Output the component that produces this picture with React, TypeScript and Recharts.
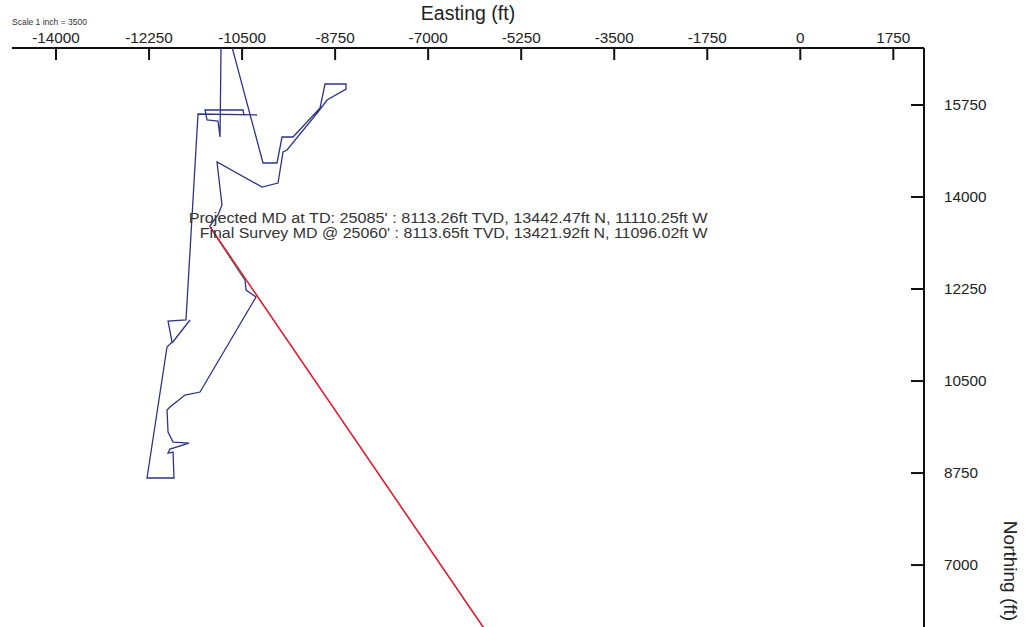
import React from 'react';
import { ScatterChart, Scatter, XAxis, YAxis, ReferenceDot } from 'recharts';

const FONT = "'Liberation Sans', Arial, Helvetica, sans-serif";

// Tick values
const eastTicks = [-14000, -12250, -10500, -8750, -7000, -5250, -3500, -1750, 0, 1750];
const northTicks = [7000, 8750, 10500, 12250, 14000, 15750];

// Offset well traces (Easting ft, Northing ft)
const wellShort = [
  { e: -10896, n: 16850 },
  { e: -10915, n: 15141 },
  { e: -10953, n: 15446 },
  { e: -11160, n: 15465 },
  { e: -11197, n: 15655 },
  { e: -10483, n: 15655 },
  { e: -10464, n: 15560 },
];

const wellWest = [
  { e: -10219, n: 15560 },
  { e: -11329, n: 15579 },
  { e: -11555, n: 11661 },
  { e: -11893, n: 11642 },
  { e: -11818, n: 11242 },
  { e: -11912, n: 11147 },
  { e: -12288, n: 8656 },
  { e: -11780, n: 8656 },
  { e: -11799, n: 9150 },
  { e: -11893, n: 9131 },
  { e: -11856, n: 9207 },
  { e: -11498, n: 9321 },
  { e: -11799, n: 9340 },
  { e: -11893, n: 9530 },
  { e: -11912, n: 9949 },
  { e: -11856, n: 10006 },
  { e: -11574, n: 10234 },
  { e: -11291, n: 10291 },
  { e: -10238, n: 12098 },
  { e: -10426, n: 12231 },
  { e: -10445, n: 12421 },
  { e: -11096, n: 13422 },
];

const wellCross = [
  { e: -11479, n: 11661 },
  { e: -11818, n: 11223 },
];

const wellLoop = [
  { e: -10689, n: 16850 },
  { e: -10106, n: 14647 },
  { e: -9843, n: 14647 },
  { e: -9749, n: 15141 },
  { e: -9542, n: 15141 },
  { e: -9034, n: 15693 },
  { e: -8940, n: 16149 },
  { e: -8545, n: 16149 },
  { e: -8545, n: 16054 },
  { e: -8902, n: 15845 },
  { e: -9072, n: 15617 },
  { e: -9655, n: 14894 },
  { e: -9730, n: 14856 },
  { e: -9824, n: 14266 },
  { e: -10125, n: 14190 },
  { e: -10972, n: 14666 },
  { e: -10878, n: 13848 },
  { e: -10953, n: 13658 },
  { e: -11110, n: 13442 },
];

// Subject well: survey (green), actual (dark) and plan (red)
const surveyTrack = [
  { e: -11096, n: 13422 },
  { e: -10445, n: 12421 },
];
const actualTrack = [
  { e: -11110, n: 13442 },
  { e: -5822, n: 5600 },
];
const planTrack = [
  { e: -11110, n: 13442 },
  { e: -5815, n: 5600 },
];

const tdPoint = { e: -11110, n: 13442 };
const tdLabel1 = "Projected MD at TD: 25085' : 8113.26ft TVD, 13442.47ft N, 11110.25ft W";
const tdLabel2 = "Final Survey MD @ 25060' : 8113.65ft TVD, 13421.92ft N, 11096.02ft W";

const NAVY = '#2d3483';

const NoShape = () => <g />;

const TopTick = (props: any) => {
  const { x, y, payload } = props;
  return (
    <g>
      <line x1={x} y1={y} x2={x} y2={y + 12} stroke="#111" strokeWidth={2} />
      <text x={x} y={y - 5} textAnchor="middle" fontSize={15.3} fill="#222" fontFamily={FONT}>
        {payload.value}
      </text>
    </g>
  );
};

const RightTick = (props: any) => {
  const { x, y, payload } = props;
  return (
    <g>
      <line x1={x - 13} y1={y} x2={x} y2={y} stroke="#111" strokeWidth={2} />
      <text x={x + 20} y={y + 5} textAnchor="start" fontSize={15.3} fill="#222" fontFamily={FONT}>
        {payload.value}
      </text>
    </g>
  );
};

const TdShape = (p: any) => {
  const { cx, cy } = p;
  return (
    <g>
      <text x={cx - 21} y={cy - 3} fontSize={14} fill="#333" fontFamily={FONT} textLength={519} lengthAdjust="spacingAndGlyphs">
        {tdLabel1}
      </text>
      <text x={cx - 10} y={cy + 12} fontSize={14} fill="#333" fontFamily={FONT} textLength={508} lengthAdjust="spacingAndGlyphs">
        {tdLabel2}
      </text>
    </g>
  );
};

export default function App() {
  return (
    <div style={{ position: 'absolute', left: 0, top: 0, width: 1029, height: 627, background: '#fff', overflow: 'hidden' }}>
      <ScatterChart width={1029} height={627} margin={{ top: 18, right: 45, bottom: 0, left: 12 }}>
        <XAxis
          type="number"
          dataKey="e"
          orientation="top"
          domain={[-14828, 2327]}
          allowDataOverflow
          ticks={eastTicks}
          interval={0}
          height={30}
          tickSize={0}
          tickMargin={0}
          tickLine={false}
          axisLine={{ stroke: '#111', strokeWidth: 2 }}
          tick={<TopTick />}
        />
        <YAxis
          type="number"
          dataKey="n"
          orientation="right"
          domain={[5822, 16834]}
          allowDataOverflow
          ticks={northTicks}
          interval={0}
          width={60}
          tickSize={0}
          tickMargin={0}
          tickLine={false}
          axisLine={{ stroke: '#111', strokeWidth: 2 }}
          tick={<RightTick />}
        />
        <Scatter data={wellShort} line={{ stroke: NAVY, strokeWidth: 1.3 }} lineType="joint" shape={NoShape} isAnimationActive={false} />
        <Scatter data={wellWest} line={{ stroke: NAVY, strokeWidth: 1.3 }} lineType="joint" shape={NoShape} isAnimationActive={false} />
        <Scatter data={wellCross} line={{ stroke: NAVY, strokeWidth: 1.3 }} lineType="joint" shape={NoShape} isAnimationActive={false} />
        <Scatter data={wellLoop} line={{ stroke: NAVY, strokeWidth: 1.3 }} lineType="joint" shape={NoShape} isAnimationActive={false} />
        <Scatter data={surveyTrack} line={{ stroke: '#2f8a6a', strokeWidth: 1.2 }} lineType="joint" shape={NoShape} isAnimationActive={false} />
        <Scatter data={actualTrack} line={{ stroke: '#3b3b66', strokeWidth: 1 }} lineType="joint" shape={NoShape} isAnimationActive={false} />
        <Scatter data={planTrack} line={{ stroke: '#ee1c2e', strokeWidth: 1.5 }} lineType="joint" shape={NoShape} isAnimationActive={false} />
        <ReferenceDot x={tdPoint.e} y={tdPoint.n} r={0} shape={TdShape} ifOverflow="visible" />
      </ScatterChart>
      <svg width={1029} height={627} style={{ position: 'absolute', left: 0, top: 0, pointerEvents: 'none' }}>
        <text x={12} y={25} fontSize={8.5} fill="#333" fontFamily={FONT}>Scale 1 inch = 3500</text>
        <text x={468} y={20} fontSize={19.5} textAnchor="middle" fill="#222" fontFamily={FONT}>Easting (ft)</text>
        <text x={0} y={0} fontSize={19} textAnchor="middle" fill="#222" fontFamily={FONT} transform="translate(1004 571) rotate(90)">
          Northing (ft)
        </text>
      </svg>
    </div>
  );
}
